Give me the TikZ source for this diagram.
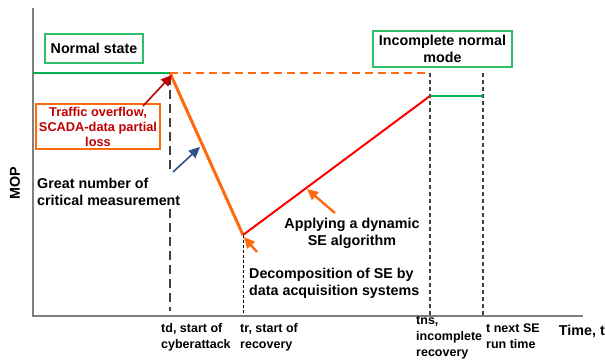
\documentclass[tikz,border=0pt]{standalone}
\usepackage{fontspec}
\setmainfont{Liberation Sans}
\usetikzlibrary{arrows.meta}
\definecolor{lgreen}{HTML}{00B050}
\definecolor{bgreen}{HTML}{2EBE6A}
\definecolor{orng}{HTML}{FF6A0E}
\definecolor{dred}{HTML}{C00000}
\definecolor{dblue}{HTML}{2B5287}
\definecolor{axg}{HTML}{7F7F7F}
\definecolor{dsh}{HTML}{404040}
\tikzset{
  big/.style={font=\fontsize{14.3}{17}\selectfont\bfseries, inner sep=0pt},
  small/.style={font=\fontsize{12.5}{16}\selectfont\bfseries, inner sep=0pt},
  gbox/.style={draw=bgreen, line width=1.2pt},
  axis/.style={draw=axg, line width=2pt},
  vdash/.style={draw=dsh, line width=1.1pt, dash pattern=on 4pt off 3pt},
  arr/.style={-{Triangle[length=11pt,width=10pt]}, line width=1.6pt},
}
\begin{document}
\begin{tikzpicture}[x=1pt,y=-1pt]
\useasboundingbox (0,0) rectangle (606,361);
% key points
\coordinate (O) at (33,316);
\coordinate (Ytop) at (33,8);
\coordinate (Xend) at (583,316);
\coordinate (L0) at (33,73);
\coordinate (A) at (170,73);
\coordinate (B) at (243,235);
\coordinate (C) at (430,96);
\coordinate (D) at (483,96);
\coordinate (Ct) at (430,73);
\coordinate (Dt) at (483,73);
\coordinate (Cb) at (430,316);
\coordinate (Db) at (483,316);
\coordinate (Bb) at (243,316);
\coordinate (A1) at (170,76);
\coordinate (A2) at (170,174);
\coordinate (A3) at (170,209);
\coordinate (A4) at (170,311);
% vertical dashed lines
\draw[dsh, line width=2pt, dash pattern=on 9pt off 5pt] (A1) -- (A2);
\draw[dsh, line width=2pt, dash pattern=on 9pt off 5pt] (A3) -- (A4);
\draw[black, line width=0.9pt, dash pattern=on 3pt off 2pt] (B) -- (Bb);
\draw[vdash] (Ct) -- (Cb);
\draw[vdash] (Dt) -- (Db);
% axes
\draw[axis] (Ytop) -- (O) -- (Xend);
% curve
\draw[lgreen, line width=2.8pt] (L0) -- (A);
\draw[orng, line width=1.6pt, dash pattern=on 8pt off 5pt] (A) -- (Ct);
\draw[orng, line width=3pt] (A) -- (B);
\draw[red, line width=2pt] (B) -- (C);
\draw[lgreen, line width=2pt] (C) -- (D);
% boxes and texts
\node[big, gbox, minimum width=98pt, minimum height=29pt] (ns) at (94,48.5) {Normal state};
\node[big, gbox, minimum width=139pt, minimum height=36pt, align=center] (inm) at (442.5,49) {Incomplete normal\\mode};
\node[small, draw=orng, line width=1.2pt, text=dred, minimum width=124pt, minimum height=45pt, align=center, font=\fontsize{12.8}{15}\selectfont\bfseries] (tr) at (98,126.5) {Traffic overflow,\\SCADA-data partial\\loss};
\node[big, anchor=west, align=left] (gn) at (37,191.5) {Great number of\\critical measurement};
\node[big, align=center] (ap) at (352,233.5) {Applying a dynamic\\SE algorithm};
\node[big, anchor=west, align=left] (dc) at (249,283.5) {Decomposition of SE by\\data acquisition systems};
\node[small, anchor=west, align=left] (tdl) at (161,337) {td, start of\\cyberattack};
\node[small, anchor=west, align=left] (trl) at (240,337) {tr, start of\\recovery};
\node[small, anchor=west, align=left, font=\fontsize{12.5}{16}\selectfont\bfseries] (tnsl) at (416,338) {tns,\\incomplete\\recovery};
\node[small, anchor=west, align=left] (tnl) at (486,336.5) {t next SE\\run time};
\node[big, anchor=east] (tm) at (605,331) {Time, t};
\node[big, rotate=90] (mop) at (15,183) {MOP};
% arrows
\coordinate (r1) at (143,106);
\coordinate (r2) at (172,75);
\coordinate (b1) at (173,172);
\coordinate (b2) at (200,147);
\coordinate (o1) at (335,213);
\coordinate (o2) at (307,189);
\coordinate (o3) at (257,252);
\coordinate (o4) at (244,237);
\draw[arr, dred] (r1) -- (r2);
\draw[arr, dblue] (b1) -- (b2);
\draw[arr, orng, line width=2.4pt] (o1) -- (o2);
\draw[arr, orng, line width=2.4pt] (o3) -- (o4);
\end{tikzpicture}
\end{document}
